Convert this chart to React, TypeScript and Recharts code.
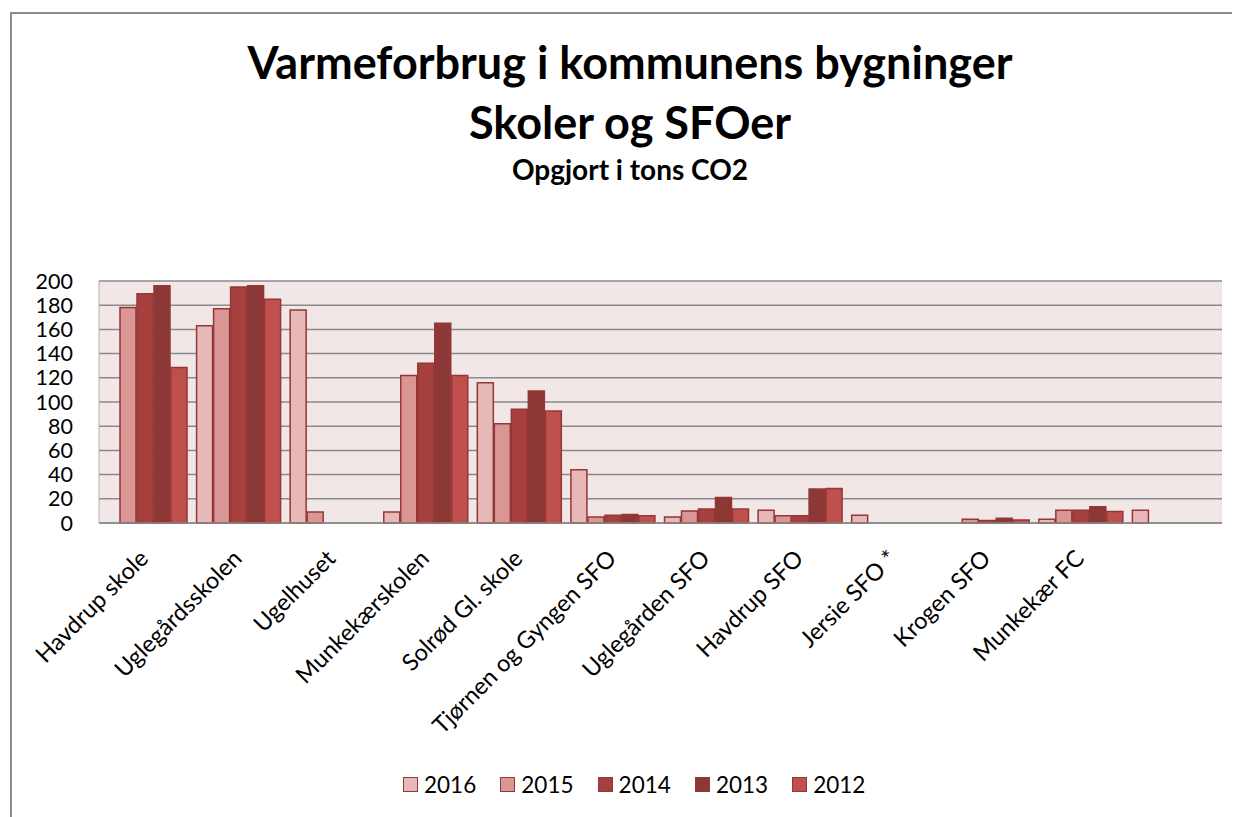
import React from 'react';
import { BarChart, Bar, XAxis, YAxis, CartesianGrid, Legend } from 'recharts';

const categories = [
  'Havdrup skole',
  'Uglegårdsskolen',
  'Ugelhuset',
  'Munkekærskolen',
  'Solrød Gl. skole',
  'Tjørnen og Gyngen SFO',
  'Uglegården SFO',
  'Havdrup SFO',
  'Jersie SFO *',
  'Krogen SFO',
  'Munkekær FC',
  '',
];

const v2016 = [null, 163, 176, 9, 116, 44, 5, 10.5, 6.5, null, 3, 10.5];
const v2015 = [178, 177, 9, 122, 82, 5, 10, 6, null, 3, 10.5, null];
const v2014 = [189.5, 195, null, 132, 94, 6.5, 11.5, 6, null, 2, 10.5, null];
const v2013 = [196, 196, null, 165, 109, 7, 21, 28, null, 4, 13.5, null];
const v2012 = [128.5, 185, null, 122, 92.5, 6, 11.5, 28.5, null, 2.5, 9.5, null];

const yTicks = [0, 20, 40, 60, 80, 100, 120, 140, 160, 180, 200];

const seriesKeys = ['2016', '2015', '2014', '2013', '2012'];
const seriesValues = [v2016, v2015, v2014, v2013, v2012];
const seriesColors = ['#E6B9B8', '#D99694', '#A5403E', '#8C3836', '#C0504D'];

const data = categories.map((name, i) => {
  const row: any = { name };
  seriesKeys.forEach((k, s) => {
    row[k] = seriesValues[s][i];
  });
  return row;
});

const FONT = 'Lato, "Open Sans", sans-serif';

const XTick = (props: any) => {
  const { x, y, payload } = props;
  const ax = x + 4;
  const ay = y + 37;
  return (
    <text
      x={ax}
      y={ay}
      transform={`rotate(-45 ${ax} ${ay})`}
      textAnchor="end"
      fontFamily={FONT}
      fontSize={23.5}
      fill="#000"
    >
      {payload.value}
    </text>
  );
};

const YTick = (props: any) => {
  const { y, payload } = props;
  return (
    <text x={65} y={y} dy={7.5} textAnchor="end" fontFamily={FONT} fontSize={21.5} fill="#000">
      {payload.value}
    </text>
  );
};

const renderLegend = () => {
  return (
    <div style={{ position: 'relative', height: 30, width: 1232 }}>
      {seriesKeys.map((k, i) => (
        <div
          key={k}
          style={{
            position: 'absolute',
            left: 395 + i * 97.3,
            top: 0,
            height: 30,
            display: 'flex',
            alignItems: 'center',
            fontFamily: FONT,
            fontSize: 22.5,
            color: '#000',
          }}
        >
          <span
            style={{
              display: 'inline-block',
              width: 13,
              height: 13,
              background: seriesColors[i],
              border: '1.5px solid #953735',
              marginRight: 6,
            }}
          />
          <span>{k}</span>
        </div>
      ))}
    </div>
  );
};

export default function App() {
  return (
    <div style={{ position: 'relative', width: 1232, height: 809, overflow: 'hidden', background: '#fff' }}>
      <div
        style={{
          position: 'absolute',
          left: 2,
          top: 4,
          width: 1260,
          height: 840,
          border: '2px solid #8c8c8c',
          boxSizing: 'border-box',
        }}
      />
      <div
        style={{
          position: 'absolute',
          left: 6,
          width: 1232,
          top: 23.6,
          textAlign: 'center',
          fontFamily: FONT,
          fontWeight: 700,
          color: '#000',
        }}
      >
        <div style={{ fontSize: 45, lineHeight: '60px' }}>Varmeforbrug i kommunens bygninger</div>
        <div style={{ fontSize: 45, lineHeight: '60px' }}>Skoler og SFOer</div>
        <div style={{ fontSize: 28, lineHeight: '35px' }}>Opgjort i tons CO2</div>
      </div>
      <div style={{ position: 'absolute', left: 0, top: 0 }}>
        <BarChart
          width={1232}
          height={809}
          data={data}
          margin={{ top: 273, right: 18, left: 0, bottom: 0 }}
          barCategoryGap={4}
          barGap={1}
        >
          <CartesianGrid
            vertical={false}
            fill="#F2E7E7"
            stroke="#8a8a8a"
            strokeWidth={1.5}
            fillOpacity={1}
          />
          <XAxis
            dataKey="name"
            height={294}
            interval={0}
            tickLine={false}
            tickSize={0}
            tickMargin={0}
            axisLine={{ stroke: '#8a8a8a', strokeWidth: 1.5 }}
            tick={<XTick />}
          />
          <YAxis
            width={91}
            domain={[0, 200]}
            ticks={yTicks}
            interval={0}
            tickLine={false}
            axisLine={{ stroke: '#b0b0b0', strokeWidth: 1 }}
            tick={<YTick />}
          />
          <Legend
            verticalAlign="middle"
            align="center"
            layout="horizontal"
            wrapperStyle={{ top: 761, left: 0, width: 1232 }}
            content={renderLegend}
          />
          {seriesKeys.map((k, s) => (
            <Bar
              key={k}
              dataKey={k}
              name={k}
              fill={seriesColors[s]}
              stroke="#953735"
              strokeWidth={1.5}
              isAnimationActive={false}
            />
          ))}
        </BarChart>
      </div>
    </div>
  );
}
